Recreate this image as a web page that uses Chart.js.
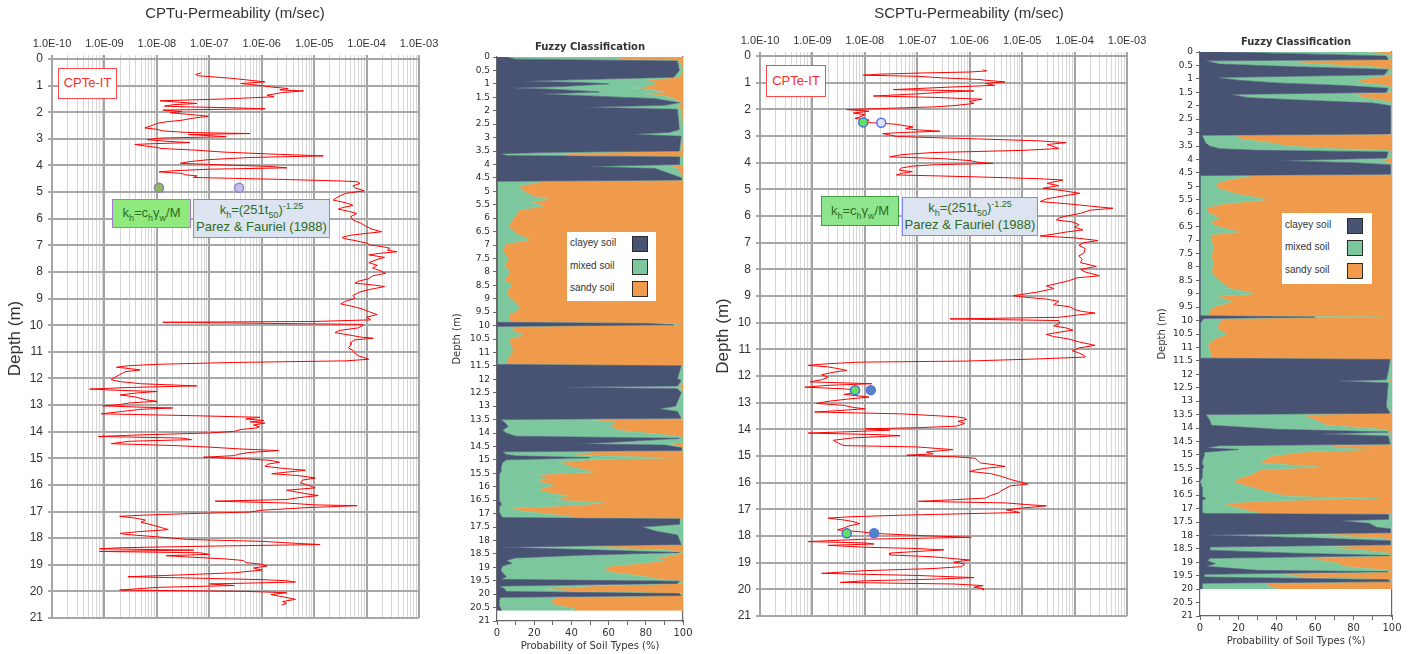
<!DOCTYPE html>
<html>
<head>
<meta charset="utf-8">
<script src="https://cdn.jsdelivr.net/npm/chart.js@4.4.1/dist/chart.umd.min.js"></script>
<style>
body{margin:0;background:#fff;width:1408px;height:654px;overflow:hidden;position:relative;font-family:"Liberation Sans",Arial,sans-serif}
canvas{position:absolute;top:0}
.note{position:absolute;box-sizing:border-box;display:flex;flex-direction:column;align-items:center;justify-content:center;font-size:13px;line-height:1.3;white-space:nowrap}
.note sub,.note sup{font-size:9px;line-height:0}
.red{border:1.5px solid #ff4a4a;color:#ff2a2a;background:#fff}
.grn1{background:#8fe97d;border:1.5px solid #a47ad2;color:#2e6b22}
.grn2{background:#8de68d;border:1.5px solid #3f9c3f;color:#2e6b22}
.blu{background:#dce4f1;border:1.5px solid #7f86ff;color:#2e6b22}
.legend{position:absolute;background:#fff}
.legend div{position:absolute;font-size:10px;color:#333}
.legend span{position:absolute;width:16px;height:16px;box-sizing:border-box;border:1.5px solid #2b2b2b}
</style>
</head>
<body>
<canvas id="cptu" width="470" height="654" style="left:0"></canvas>
<canvas id="fuzzy1" width="260" height="654" style="left:440px"></canvas>
<canvas id="scptu" width="522" height="654" style="left:708px"></canvas>
<canvas id="fuzzy2" width="258" height="654" style="left:1150px"></canvas>

<div class="note red" style="left:58px;top:68px;width:59px;height:31px">CPTe-IT</div>
<div class="note grn1" style="left:112px;top:199px;width:79px;height:29px"><div>k<sub>h</sub>=c<sub>h</sub>γ<sub>w</sub>/M</div></div>
<div class="note blu" style="left:193px;top:199px;width:137px;height:39px"><div>k<sub>h</sub>=(251t<sub>50</sub>)<sup>-1.25</sup></div><div>Parez &amp; Fauriel (1988)</div></div>

<div class="note red" style="left:766px;top:65px;width:60px;height:32px">CPTe-IT</div>
<div class="note grn2" style="left:821px;top:196px;width:78px;height:30px"><div>k<sub>h</sub>=c<sub>h</sub>γ<sub>w</sub>/M</div></div>
<div class="note blu" style="left:902px;top:197px;width:136px;height:39px"><div>k<sub>h</sub>=(251t<sub>50</sub>)<sup>-1.25</sup></div><div>Parez &amp; Fauriel (1988)</div></div>

<div class="legend" id="leg1" style="left:567px;top:232px;width:89px;height:69px"></div>
<div class="legend" id="leg2" style="left:1282px;top:213px;width:90px;height:71px"></div>

<script>
// permeability axis
var permDecades = [1e-10, 1e-9, 1e-8, 1e-7, 1e-6, 1e-5, 1e-4, 1e-3];
var permTickLabels = ['1.0E-10', '1.0E-09', '1.0E-08', '1.0E-07', '1.0E-06', '1.0E-05', '1.0E-04', '1.0E-03'];

// CPTu profile: depth (m) and permeability (m/sec)
var cptuDepth = [
  0.52,0.58,0.63,0.72,0.80,0.86,0.92,0.98,1.05,1.11,
  1.16,1.20,1.26,1.31,1.36,1.42,1.50,1.57,1.62,1.67,
  1.72,1.77,1.80,1.83,1.87,1.92,1.97,2.02,2.08,2.15,
  2.22,2.30,2.36,2.42,2.50,2.59,2.64,2.70,2.76,2.80,
  2.84,2.88,2.92,2.97,3.03,3.09,3.14,3.18,3.21,3.27,
  3.32,3.36,3.42,3.50,3.58,3.64,3.70,3.78,3.86,3.92,
  3.98,4.04,4.09,4.14,4.20,4.24,4.30,4.35,4.39,4.45,
  4.52,4.58,4.61,4.68,4.76,4.84,4.95,5.05,5.15,5.30,
  5.40,5.50,5.58,5.64,5.72,5.80,5.92,6.05,6.18,6.30,
  6.40,6.49,6.56,6.62,6.70,6.74,6.82,6.92,6.99,7.05,
  7.11,7.18,7.24,7.30,7.36,7.45,7.55,7.65,7.75,7.85,
  7.95,8.05,8.15,8.25,8.35,8.42,8.50,8.55,8.65,8.75,
  8.88,8.99,9.10,9.20,9.28,9.38,9.49,9.60,9.70,9.80,
  9.86,9.89,9.93,9.97,10.00,10.10,10.20,10.28,10.38,10.45,
  10.49,10.55,10.65,10.74,10.85,10.95,11.05,11.15,11.22,11.28,
  11.34,11.40,11.47,11.52,11.58,11.63,11.68,11.75,11.85,11.95,
  12.05,12.12,12.20,12.28,12.34,12.40,12.45,12.49,12.55,12.62,
  12.70,12.80,12.86,12.92,12.98,13.03,13.08,13.11,13.16,13.25,
  13.33,13.40,13.46,13.52,13.58,13.63,13.68,13.75,13.82,13.86,
  13.92,13.99,14.05,14.12,14.18,14.24,14.30,14.36,14.45,14.52,
  14.58,14.65,14.71,14.78,14.85,14.90,14.96,15.02,15.08,15.15,
  15.22,15.30,15.38,15.45,15.52,15.58,15.65,15.74,15.82,15.93,
  16.02,16.11,16.20,16.28,16.35,16.40,16.48,16.55,16.61,16.68,
  16.75,16.78,16.85,16.95,17.02,17.08,17.14,17.18,17.25,17.32,
  17.40,17.50,17.60,17.68,17.75,17.82,17.86,17.95,18.05,18.12,
  18.20,18.24,18.30,18.36,18.40,18.45,18.50,18.55,18.61,18.66,
  18.72,18.78,18.84,18.92,18.98,19.05,19.12,19.20,19.30,19.38,
  19.45,19.50,19.56,19.60,19.65,19.72,19.78,19.85,19.95,20.00,
  20.05,20.12,20.20,20.30,20.38,20.45,20.51
];
var cptuK = [
  7e-8,5.5e-8,6.2e-8,2.5e-7,6e-7,1.15e-6,4e-7,8e-7,1.5e-6,3.2e-6,
  2.2e-6,6.3e-6,2.5e-6,1.8e-6,1.26e-6,1.7e-6,2e-7,1.15e-8,2.5e-8,5.8e-8,
  2e-8,1.4e-8,4e-8,2.5e-7,1.15e-6,1.3e-8,3e-8,1.8e-8,4e-8,9.5e-8,
  5e-8,3e-8,1.5e-8,1e-8,8e-9,5.9e-9,1e-8,1.3e-8,3.7e-8,6e-7,
  4e-8,1e-7,2.1e-7,1.2e-8,6.5e-9,1.5e-8,4.3e-8,9e-9,3.8e-9,6e-9,
  1e-8,1.2e-8,5e-8,2e-7,2e-6,1.5e-5,6e-7,1e-7,4e-8,2.8e-8,
  2e-7,1.5e-6,3e-6,1e-7,2e-8,1.1e-8,3e-8,3.5e-8,5.8e-8,5e-8,
  2e-6,3e-5,6.6e-5,7.5e-5,5.5e-5,6e-5,9e-5,4e-5,3e-5,2.3e-5,
  4e-5,5.5e-5,3.5e-5,2.9e-5,4.5e-5,6.5e-5,5e-5,5.5e-5,8e-5,1e-4,
  1.3e-4,1.95e-4,9e-5,5e-5,3.4e-5,3.6e-5,6e-5,1e-4,1.2e-4,2e-4,
  2.8e-4,2.5e-4,3.8e-4,1.8e-4,1.1e-4,2.2e-4,1.5e-4,1.1e-4,1.6e-4,1.3e-4,
  1.8e-4,2.3e-4,1.3e-4,1.1e-4,7e-5,6e-5,1.5e-4,2.2e-4,1.2e-4,7.5e-5,
  5.5e-5,6e-5,4e-5,3.2e-5,5e-5,8e-5,1.1e-4,1.6e-4,1e-4,1.2e-4,
  1e-5,1.3e-8,1e-6,8e-5,8.7e-5,7e-5,3e-5,2.5e-5,5e-5,8e-5,
  1.35e-4,6e-5,5e-5,5e-5,4.5e-5,5.5e-5,6e-5,7e-5,9e-5,1.1e-4,
  4e-5,2.9e-7,1e-8,3e-9,1.7e-9,3e-9,4.8e-9,2.5e-9,2e-9,1.6e-9,
  1.35e-9,2e-9,5e-9,5.8e-8,3e-9,5.2e-10,2e-9,1e-8,4e-9,2e-9,
  4e-9,6e-9,1e-8,3e-9,2e-9,9.3e-10,5e-9,2e-8,5e-9,2e-9,
  8.7e-10,5e-8,9.3e-7,5e-7,1.1e-6,6e-7,1.15e-6,7e-7,9e-7,8e-7,
  4e-7,3e-7,1e-7,5e-9,7.6e-10,3e-8,4.6e-8,3e-9,1.35e-9,2e-8,
  1e-7,4e-7,2.1e-6,6e-7,3.5e-7,3e-7,7.8e-8,5e-7,1.5e-6,2.2e-6,
  1.3e-6,1.15e-6,2.5e-6,6.8e-6,3e-6,1.55e-6,5e-6,1.05e-5,6e-6,5.5e-6,
  8e-6,1.05e-5,3e-6,5e-6,8e-6,1.2e-5,5e-6,3e-6,1.3e-7,3e-6,
  1e-5,6.6e-5,8e-6,1e-6,6e-7,4e-8,5e-9,1.95e-9,4e-9,6e-9,
  5e-9,8e-9,1.2e-8,1.65e-8,5e-9,2e-9,2.5e-9,1e-8,4e-8,1e-6,
  5e-6,1.3e-5,1e-7,2e-9,8.1e-10,5e-8,8e-10,6.6e-8,1e-7,1.5e-8,
  5e-8,2e-7,4.5e-7,5e-7,1e-6,1.26e-6,7e-7,1e-6,3e-7,3e-8,
  2.8e-9,5e-8,1e-6,3e-6,4.4e-6,1e-7,3e-7,1e-8,1.95e-9,5e-7,
  3e-6,1.5e-6,2.5e-6,4.4e-6,2.5e-6,3e-6,2.4e-6
];
var cptuChDepth = [4.84];
var cptuChK = [1.1e-8];
var cptuT50Depth = [4.84];
var cptuT50K = [3.7e-7];

// SCPTu profile
var scptuDepth = [
  0.52,0.56,0.60,0.64,0.68,0.72,0.76,0.82,0.88,0.91,
  0.97,1.03,1.10,1.16,1.22,1.26,1.31,1.36,1.42,1.50,
  1.55,1.62,1.70,1.78,1.86,1.91,1.97,2.01,2.07,2.14,
  2.20,2.28,2.34,2.40,2.49,2.52,2.56,2.62,2.66,2.72,
  2.77,2.82,2.87,2.91,2.96,3.02,3.10,3.18,3.25,3.32,
  3.40,3.47,3.54,3.62,3.70,3.78,3.85,3.92,3.99,4.03,
  4.08,4.13,4.20,4.28,4.34,4.40,4.46,4.53,4.60,4.65,
  4.72,4.78,4.86,4.96,5.05,5.15,5.25,5.35,5.46,5.55,
  5.63,5.71,5.78,5.90,6.00,6.08,6.15,6.22,6.32,6.42,
  6.52,6.60,6.68,6.75,6.82,6.92,7.00,7.10,7.22,7.39,
  7.50,7.62,7.75,7.89,8.00,8.10,8.24,8.32,8.42,8.52,
  8.62,8.72,8.85,8.99,9.05,9.12,9.20,9.33,9.40,9.51,
  9.58,9.64,9.72,9.80,9.86,9.92,10.03,10.12,10.20,10.28,
  10.36,10.44,10.52,10.62,10.72,10.85,10.95,11.05,11.13,11.22,
  11.29,11.36,11.44,11.48,11.54,11.60,11.66,11.72,11.79,11.86,
  11.95,12.05,12.14,12.22,12.29,12.35,12.42,12.48,12.53,12.60,
  12.69,12.75,12.79,12.86,12.95,13.03,13.10,13.18,13.23,13.30,
  13.35,13.42,13.53,13.58,13.63,13.70,13.78,13.88,13.94,13.98,
  14.03,14.09,14.14,14.20,14.24,14.32,14.41,14.50,14.61,14.66,
  14.72,14.76,14.85,14.92,14.97,15.03,15.08,15.16,15.26,15.33,
  15.39,15.46,15.52,15.58,15.66,15.76,15.88,15.97,16.05,16.12,
  16.20,16.30,16.39,16.48,16.58,16.64,16.70,16.76,16.82,16.87,
  16.95,17.02,17.07,17.12,17.16,17.22,17.28,17.33,17.40,17.46,
  17.54,17.62,17.70,17.77,17.84,17.90,17.98,18.05,18.12,18.21,
  18.26,18.30,18.35,18.42,18.47,18.52,18.58,18.64,18.71,18.78,
  18.85,18.90,18.98,19.05,19.15,19.22,19.30,19.40,19.48,19.56,
  19.62,19.68,19.74,19.80,19.86,19.92,19.97,20.03
];
var scptuK = [
  1.8e-6,2.1e-6,1e-6,1e-7,2e-8,9.3e-9,1e-7,3e-7,1.5e-6,2e-6,
  4.7e-6,2e-6,3e-6,5e-7,1e-7,3.5e-8,1.2e-6,3e-7,1e-7,1.45e-8,
  2e-7,1.7e-6,1e-6,1.2e-6,5e-7,2e-7,2e-8,4.5e-9,1.2e-8,6e-9,
  1e-8,8e-9,6.5e-9,1.2e-8,9.3e-9,2e-8,4e-8,6e-8,8.3e-8,6e-8,
  1e-7,2.7e-7,5e-8,2.2e-8,3e-8,4e-8,1e-6,2e-5,6.9e-5,3e-5,
  4e-5,5e-5,1e-5,2e-7,5e-8,3e-8,3e-7,1e-6,1.5e-6,2.8e-6,
  2e-7,8e-8,5e-8,4.5e-8,8e-8,5e-8,4e-8,1.2e-6,2e-5,6e-5,
  4e-5,3e-5,5e-5,2.5e-5,6e-5,1.26e-4,6e-5,3e-5,2.2e-5,8e-5,
  2e-4,5.4e-4,2e-4,1.3e-4,7e-5,5e-5,4.5e-5,9e-5,1.2e-4,1e-4,
  1.45e-4,7e-5,4e-5,2.2e-5,1e-4,2.8e-4,1.5e-4,1.2e-4,1.6e-4,1.5e-4,
  1.2e-4,1.4e-4,1.3e-4,2.6e-4,1.3e-4,1.6e-4,3e-4,1.1e-4,8e-5,5e-5,
  2.9e-5,4e-5,2e-5,6.8e-6,1.2e-5,3e-5,5e-5,4e-5,8e-5,1e-4,
  1.4e-4,2.45e-4,1.1e-4,5e-5,4.2e-7,5e-5,5.2e-5,4e-5,7e-5,9.3e-5,
  5e-5,2.9e-5,4e-5,8e-5,1.2e-4,2.45e-4,1.2e-4,9e-5,1.2e-4,1.5e-4,
  1.6e-4,2e-5,8.7e-7,8e-9,2e-9,8.3e-10,2e-9,3e-9,4.5e-9,2.5e-9,
  1.5e-9,2e-9,1.5e-9,9e-10,1.35e-8,2e-9,7.2e-10,4e-9,6.5e-9,8e-9,
  4e-9,8e-9,1.2e-8,5e-9,2e-9,1.2e-9,4e-9,6e-9,1e-8,3e-9,
  1.1e-9,5e-8,5.6e-7,8e-7,8.7e-7,6e-7,8e-7,5.6e-7,1e-7,1e-8,
  3e-8,5e-9,8.3e-10,2e-8,4.7e-8,6e-9,2.5e-9,3e-9,4e-9,1e-7,
  2.5e-7,4.8e-7,1.5e-7,2e-7,6.3e-8,5e-7,1.26e-6,1.4e-6,1.6e-6,3e-6,
  4.7e-6,2e-6,1.3e-6,1e-6,2.5e-6,4e-6,6e-6,9e-6,1.3e-5,6e-6,
  5e-6,4e-6,3.5e-6,2.5e-6,2e-6,5e-7,1.05e-7,5e-6,1.2e-5,2.9e-5,
  1e-5,5e-6,7e-6,9e-6,1e-6,5e-8,5e-9,2e-9,4e-9,6e-9,
  8e-9,5e-9,4e-9,3e-9,8e-9,1.5e-8,1e-7,1.07e-6,1e-8,8.3e-10,
  1e-8,1.5e-8,2e-9,1e-8,1e-7,3.2e-7,1e-7,3e-8,3e-8,2e-7,
  5e-7,1e-6,5e-7,8e-7,7e-7,2e-7,1e-8,1.5e-9,1e-7,1.2e-6,
  2e-7,1e-8,3.4e-9,5e-7,1.8e-6,1.2e-6,1.8e-6,1.8e-6
];
var scptuChDepth = [2.49, 12.53, 17.9];
var scptuChK = [9.3e-9, 6.5e-9, 4.5e-9];
var scptuT50Depth = [2.5, 12.53, 17.9];
var scptuT50K = [2.05e-8, 1.3e-8, 1.5e-8];

// fuzzy classification (% clayey / mixed / sandy by depth)
var soilLabels = ['clayey soil', 'mixed soil', 'sandy soil'];
var soilColors = ['#485273', '#7cc79d', '#ef9b4b'];

var fuzzy1Depth = [
  0,0.08,0.15,0.5,0.75,0.85,0.9,0.95,1,1.1,
  1.15,1.2,1.3,1.38,1.45,1.55,1.7,1.8,1.87,1.95,
  2.7,2.8,2.88,2.95,3.5,3.55,3.6,3.67,3.72,4,
  4.08,4.15,4.5,4.58,4.63,4.8,5,5.2,5.3,5.4,
  5.55,5.7,5.9,6.1,6.3,6.5,6.65,6.8,6.95,7.2,
  7.5,7.8,8,8.3,8.5,8.75,9,9.2,9.4,9.6,
  9.8,9.88,9.92,9.97,10.03,10.2,10.35,10.5,10.8,11,
  11.2,11.45,11.5,11.97,12.05,12.25,12.3,12.35,12.5,13,
  13.1,13.2,13.45,13.5,13.6,13.75,13.9,14,14.12,14.2,
  14.35,14.4,14.45,14.55,14.65,14.7,14.8,14.85,14.92,15,
  15.1,15.3,15.45,15.55,15.7,15.8,15.95,16.1,16.25,16.35,
  16.5,16.6,16.7,16.78,16.9,17.05,17.15,17.2,17.4,17.5,
  17.65,17.8,18.15,18.25,18.35,18.45,18.55,18.65,18.75,18.85,
  18.95,19.1,19.2,19.35,19.45,19.52,19.6,19.7,19.8,19.9,
  19.98,20.05,20.12,20.25,20.4,20.55,20.62
];
var fuzzy1Clayey = [
  5,10,97,98,95,40,14,45,60,35,
  8,30,55,24,50,85,98,90,47,97,
  98,93,73,99,98,30,2,5,98,98,
  48,85,99,99,0,0,0,0,0,0,
  0,0,0,0,0,0,0,0,0,0,
  0,0,0,0,0,0,0,0,0,0,
  0,0,80,95,0,0,0,0,0,0,
  0,0,99,97,99,97,33,97,99,96,
  87,97,99,2,4,6,3,5,10,98,
  60,43,90,99,99,3,5,10,50,5,
  3,2,2,1,1,1,1,1,1,1,
  1,2,2,1,1,2,3,98,98,78,
  85,97,99,2,50,98,45,10,5,8,
  3,2,3,5,2,98,97,1,4,5,
  98,99,2,1,1,2,2
];
var fuzzy1Mixed = [
  62,55,1,2,3,40,68,40,25,45,
  65,50,35,55,40,10,1,8,50,2,
  2,7,27,1,1,30,32,35,2,2,
  45,12,1,1,25,12,14,20,28,18,
  25,12,10,8,6,9,12,18,5,3,
  6,4,7,4,8,5,7,11,12,6,
  7,8,15,3,10,8,14,6,8,8,
  6,5,1,3,1,2,62,2,1,4,
  13,3,1,45,60,55,62,75,88,2,
  40,50,5,1,1,50,35,40,45,45,
  30,40,50,20,25,20,30,20,28,37,
  30,55,40,6,12,30,40,2,2,22,
  15,3,1,30,40,2,50,75,85,70,
  58,55,60,75,85,2,3,50,20,35,
  2,1,30,28,30,40,40
];
var fuzzy1Sandy = [
  33,35,2,0,2,20,18,15,15,20,
  27,20,10,21,10,5,1,2,3,1,
  0,0,0,0,1,40,66,60,0,0,
  7,3,0,0,75,88,86,80,72,82,
  75,88,90,92,94,91,88,82,95,97,
  94,96,93,96,92,95,93,89,88,94,
  93,92,5,2,90,92,86,94,92,92,
  94,95,0,0,0,1,5,1,0,0,
  0,0,0,53,36,39,35,20,2,0,
  0,7,5,0,0,47,60,50,5,50,
  67,58,48,79,74,79,69,79,71,62,
  69,43,58,93,87,68,57,0,0,0,
  0,0,0,68,10,0,5,15,10,22,
  39,43,37,20,13,0,0,49,76,60,
  0,0,68,71,69,58,58
];

var fuzzy2Depth = [
  0,0.08,0.15,0.28,0.33,0.45,0.55,0.65,0.85,0.95,
  1.05,1.15,1.25,1.35,1.5,1.58,1.7,1.8,1.9,2,
  3.05,3.1,3.25,3.4,3.5,3.6,3.66,3.72,3.95,4.05,
  4.12,4.2,4.55,4.6,4.75,4.9,5.1,5.3,5.5,5.65,
  5.8,6,6.2,6.35,6.5,6.7,6.8,7,7.3,7.6,
  7.9,8.2,8.5,8.8,9,9.1,9.3,9.5,9.7,9.82,
  9.87,9.92,10.1,10.3,10.5,10.7,10.9,11.1,11.4,11.45,
  11.9,12.2,12.25,12.32,13.2,13.45,13.5,13.7,13.9,14.05,
  14.15,14.22,14.3,14.6,14.66,14.74,14.8,14.9,15.05,15.3,
  15.45,15.55,15.7,15.85,16,16.2,16.4,16.55,16.62,16.7,
  16.8,16.95,17.1,17.18,17.22,17.4,17.45,17.55,17.7,17.75,
  17.9,17.98,18.1,18.2,18.35,18.43,18.55,18.65,18.75,18.85,
  18.95,19.05,19.15,19.3,19.35,19.45,19.55,19.65,19.72,19.78,
  19.9,20
];
var fuzzy2Clayey = [
  12,60,97,98,3,10,50,98,96,8,
  20,40,75,98,97,16,25,55,90,99,
  99,1,2,3,5,10,30,98,97,42,
  80,99,99,0,0,0,0,0,0,0,
  0,0,0,0,0,0,0,0,0,0,
  0,0,0,0,0,0,0,0,0,0,
  60,2,0,0,0,0,0,0,0,99,
  98,97,72,98,97,99,3,5,6,40,
  98,63,98,99,10,3,20,2,2,1,
  2,1,1,1,0,1,1,1,3,1,
  1,1,1,2,98,98,73,88,92,99,
  99,3,60,99,99,5,5,45,99,5,
  4,8,3,30,98,2,2,98,99,1,
  1,1
];
var fuzzy2Mixed = [
  75,37,3,1,37,50,40,2,3,82,
  62,45,23,2,2,64,60,40,10,1,
  1,17,20,35,40,60,68,2,2,53,
  18,1,1,28,15,8,10,20,35,12,
  3,5,10,5,9,20,5,6,7,6,
  7,6,10,15,29,8,17,6,5,4,
  35,10,10,9,14,7,4,5,6,1,
  2,2,26,2,3,1,50,55,60,55,
  2,35,2,1,60,65,70,50,35,30,
  60,30,27,20,17,25,35,45,90,40,
  10,17,25,30,2,2,27,12,8,1,
  1,50,35,1,1,56,80,53,1,52,
  60,65,70,68,2,40,50,2,1,33,
  35,40
];
var fuzzy2Sandy = [
  13,3,0,1,60,40,10,0,1,10,
  18,15,2,0,1,20,15,5,0,0,
  0,82,78,62,55,30,2,0,1,5,
  2,0,0,72,85,92,90,80,65,88,
  97,95,90,95,91,80,95,94,93,94,
  93,94,90,85,71,92,83,94,95,96,
  5,88,90,91,86,93,96,95,94,0,
  0,1,2,0,0,0,47,40,34,5,
  0,2,0,0,30,32,10,48,63,69,
  38,69,72,79,83,74,64,54,7,59,
  89,82,74,68,0,0,0,0,0,0,
  0,47,5,0,0,39,15,2,0,43,
  36,27,27,2,0,58,48,0,0,66,
  64,59
];

var FONT = '"Liberation Sans", Arial, sans-serif';
var VFONT = '"DejaVu Sans", Verdana, sans-serif';

function points(depths, values){
    return depths.map(function(d, i){ return {x: values[i], y: d}; });
}

function permChart(id, title, depth, k, marks, rightW){
    var datasets = [{
        data: points(depth, k), showLine: true, borderColor: '#ff0000', borderWidth: 1,
        pointRadius: 0, order: 2, xAxisID: 'x', yAxisID: 'y'
    }];
    marks.forEach(function(m){
        datasets.push({
            data: points(m.depth, m.k), showLine: false, pointRadius: 4.5, borderWidth: 1.5,
            backgroundColor: m.fill, borderColor: m.border, order: 1, xAxisID: 'x', yAxisID: 'y'
        });
    });
    return new Chart(document.getElementById(id), {
        type: 'scatter',
        data: {datasets: datasets},
        options: {
            responsive: false, animation: false, events: [],
            layout: {padding: {top: 5, left: 0, right: 0, bottom: id === 'cptu' ? 36 : 38}},
            plugins: {
                legend: {display: false}, tooltip: {enabled: false},
                title: {display: true, text: title, color: '#333', font: {family: FONT, size: 15, weight: 'normal'}, padding: {top: 0, bottom: 0}}
            },
            scales: {
                x: {
                    type: 'logarithmic', position: 'top', min: 1e-10, max: 1e-3,
                    afterBuildTicks: function(s){
                        var t = [];
                        permDecades.forEach(function(d, i){
                            t.push({value: d, major: true});
                            if (i < permDecades.length - 1) {
                                for (var m = 2; m < 10; m++) t.push({value: d * m, major: false});
                            }
                        });
                        s.ticks = t;
                    },
                    afterFit: function(s){ s.height = id === 'cptu' ? 36 : 33; },
                    ticks: {
                        autoSkip: false, maxRotation: 0, padding: 4, color: '#333',
                        font: {family: FONT, size: 11},
                        callback: function(v, i, t){ return t[i].major ? permTickLabels[permDecades.indexOf(v)] : ''; }
                    },
                    grid: {
                        color: function(c){ return c.tick && c.tick.major ? '#a4a4a4' : '#d6d6d6'; },
                        lineWidth: function(c){ return c.tick && c.tick.major ? 2 : 1; },
                        tickLength: 4
                    },
                    border: {color: '#a4a4a4', width: 2}
                },
                y: {
                    type: 'linear', min: 0, max: 21, reverse: true,
                    afterFit: function(s){ s.width = 52; },
                    ticks: {stepSize: 1, autoSkip: false, padding: 5, color: '#333', font: {family: FONT, size: 12}},
                    grid: {color: '#a8a8a8', lineWidth: 2, tickLength: 4},
                    border: {color: '#a4a4a4', width: 2},
                    title: {display: true, text: 'Depth (m)', color: '#333', font: {family: FONT, size: 17}, padding: {top: 5, bottom: 0}}
                },
                yR: {
                    type: 'linear', position: 'right', display: true,
                    afterFit: function(s){ s.width = rightW; },
                    ticks: {display: false}, grid: {display: false}, border: {display: false}
                }
            }
        }
    });
}

function fuzzyChart(id, depth, clay, mixed, sand, o){
    var series = [clay, mixed, sand];
    var datasets = series.map(function(vals, i){
        return {
            label: soilLabels[i], data: points(depth, vals),
            backgroundColor: soilColors[i], borderColor: soilColors[i], borderWidth: 0.6,
            fill: i === 0 ? 'origin' : '-1', pointRadius: 0, tension: 0
        };
    });
    return new Chart(document.getElementById(id), {
        type: 'line',
        data: {datasets: datasets},
        options: {
            indexAxis: 'y',
            responsive: false, animation: false, events: [],
            layout: {padding: {top: o.top, left: 0, right: 0, bottom: o.bottom}},
            plugins: {
                legend: {display: false}, tooltip: {enabled: false},
                title: {display: true, fullSize: false, text: 'Fuzzy Classification', color: '#333',
                        font: {family: VFONT, size: 10, weight: 'bold'}, padding: {top: 0, bottom: 4}}
            },
            scales: {
                x: {
                    type: 'linear', position: 'bottom', min: 0, max: 100, stacked: true, z: 1,
                    afterFit: function(s){ s.height = 33; },
                    ticks: {stepSize: 10, autoSkip: false, maxRotation: 0, padding: 2, color: '#333',
                            font: {family: VFONT, size: 10},
                            callback: function(v){ return v % 20 === 0 ? String(v) : ''; }},
                    grid: {drawOnChartArea: false, tickLength: 4, color: '#666'},
                    border: {color: '#666', width: 1.2},
                    title: {display: true, text: 'Probability of Soil Types (%)', color: '#333',
                            font: {family: VFONT, size: 10}, padding: {top: 0, bottom: 2}}
                },
                y: {
                    type: 'linear', min: 0, max: 21, reverse: true, z: 1,
                    afterFit: function(s){ s.width = o.yw; },
                    ticks: {stepSize: 0.5, autoSkip: false, padding: 3, color: '#2a2a2a', font: {family: VFONT, size: 9},
                            callback: function(v){ return String(Math.round(v * 10) / 10); }},
                    grid: {drawOnChartArea: false, tickLength: 4, color: '#666'},
                    border: {color: '#666', width: 1.2},
                    title: {display: true, text: 'Depth (m)', color: '#333', font: {family: VFONT, size: 10}, padding: {top: o.tpad, bottom: 0}}
                },
                yR: {
                    type: 'linear', position: 'right', display: true, z: 1,
                    afterFit: function(s){ s.width = o.rw; },
                    ticks: {display: false}, grid: {display: false}, border: {color: '#666', width: 1.2}
                }
            }
        }
    });
}

function buildLegend(elId, rows){
    var el = document.getElementById(elId);
    soilLabels.forEach(function(lbl, i){
        var t = document.createElement('div');
        t.textContent = lbl;
        t.style.left = '3px';
        t.style.top = (rows[i] - 7) + 'px';
        el.appendChild(t);
        var sw = document.createElement('span');
        sw.style.left = '65px';
        sw.style.top = (rows[i] - 8) + 'px';
        sw.style.background = soilColors[i];
        el.appendChild(sw);
    });
}

permChart('cptu', 'CPTu-Permeability (m/sec)', cptuDepth, cptuK, [
    {depth: cptuChDepth, k: cptuChK, fill: '#8fbc5a', border: '#8b7fb8'},
    {depth: cptuT50Depth, k: cptuT50K, fill: '#c6c0ec', border: '#8d86d0'}
], 51);
permChart('scptu', 'SCPTu-Permeability (m/sec)', scptuDepth, scptuK, [
    {depth: scptuChDepth, k: scptuChK, fill: '#5fe25f', border: '#4a6fd0'},
    {depth: scptuT50Depth, k: scptuT50K, fill: ['#dbe4f7', '#4f86c6', '#4f86c6'], border: '#5a72e0'}
], 103);

fuzzyChart('fuzzy1', fuzzy1Depth, fuzzy1Clayey, fuzzy1Mixed, fuzzy1Sandy, {top: 41, bottom: 0, yw: 57, rw: 17, tpad: 11});
fuzzyChart('fuzzy2', fuzzy2Depth, fuzzy2Clayey, fuzzy2Mixed, fuzzy2Sandy, {top: 36, bottom: 5, yw: 50, rw: 16, tpad: 6});

buildLegend('leg1', [12, 35, 57]);
buildLegend('leg2', [13, 35, 58]);
</script>
</body>
</html>
